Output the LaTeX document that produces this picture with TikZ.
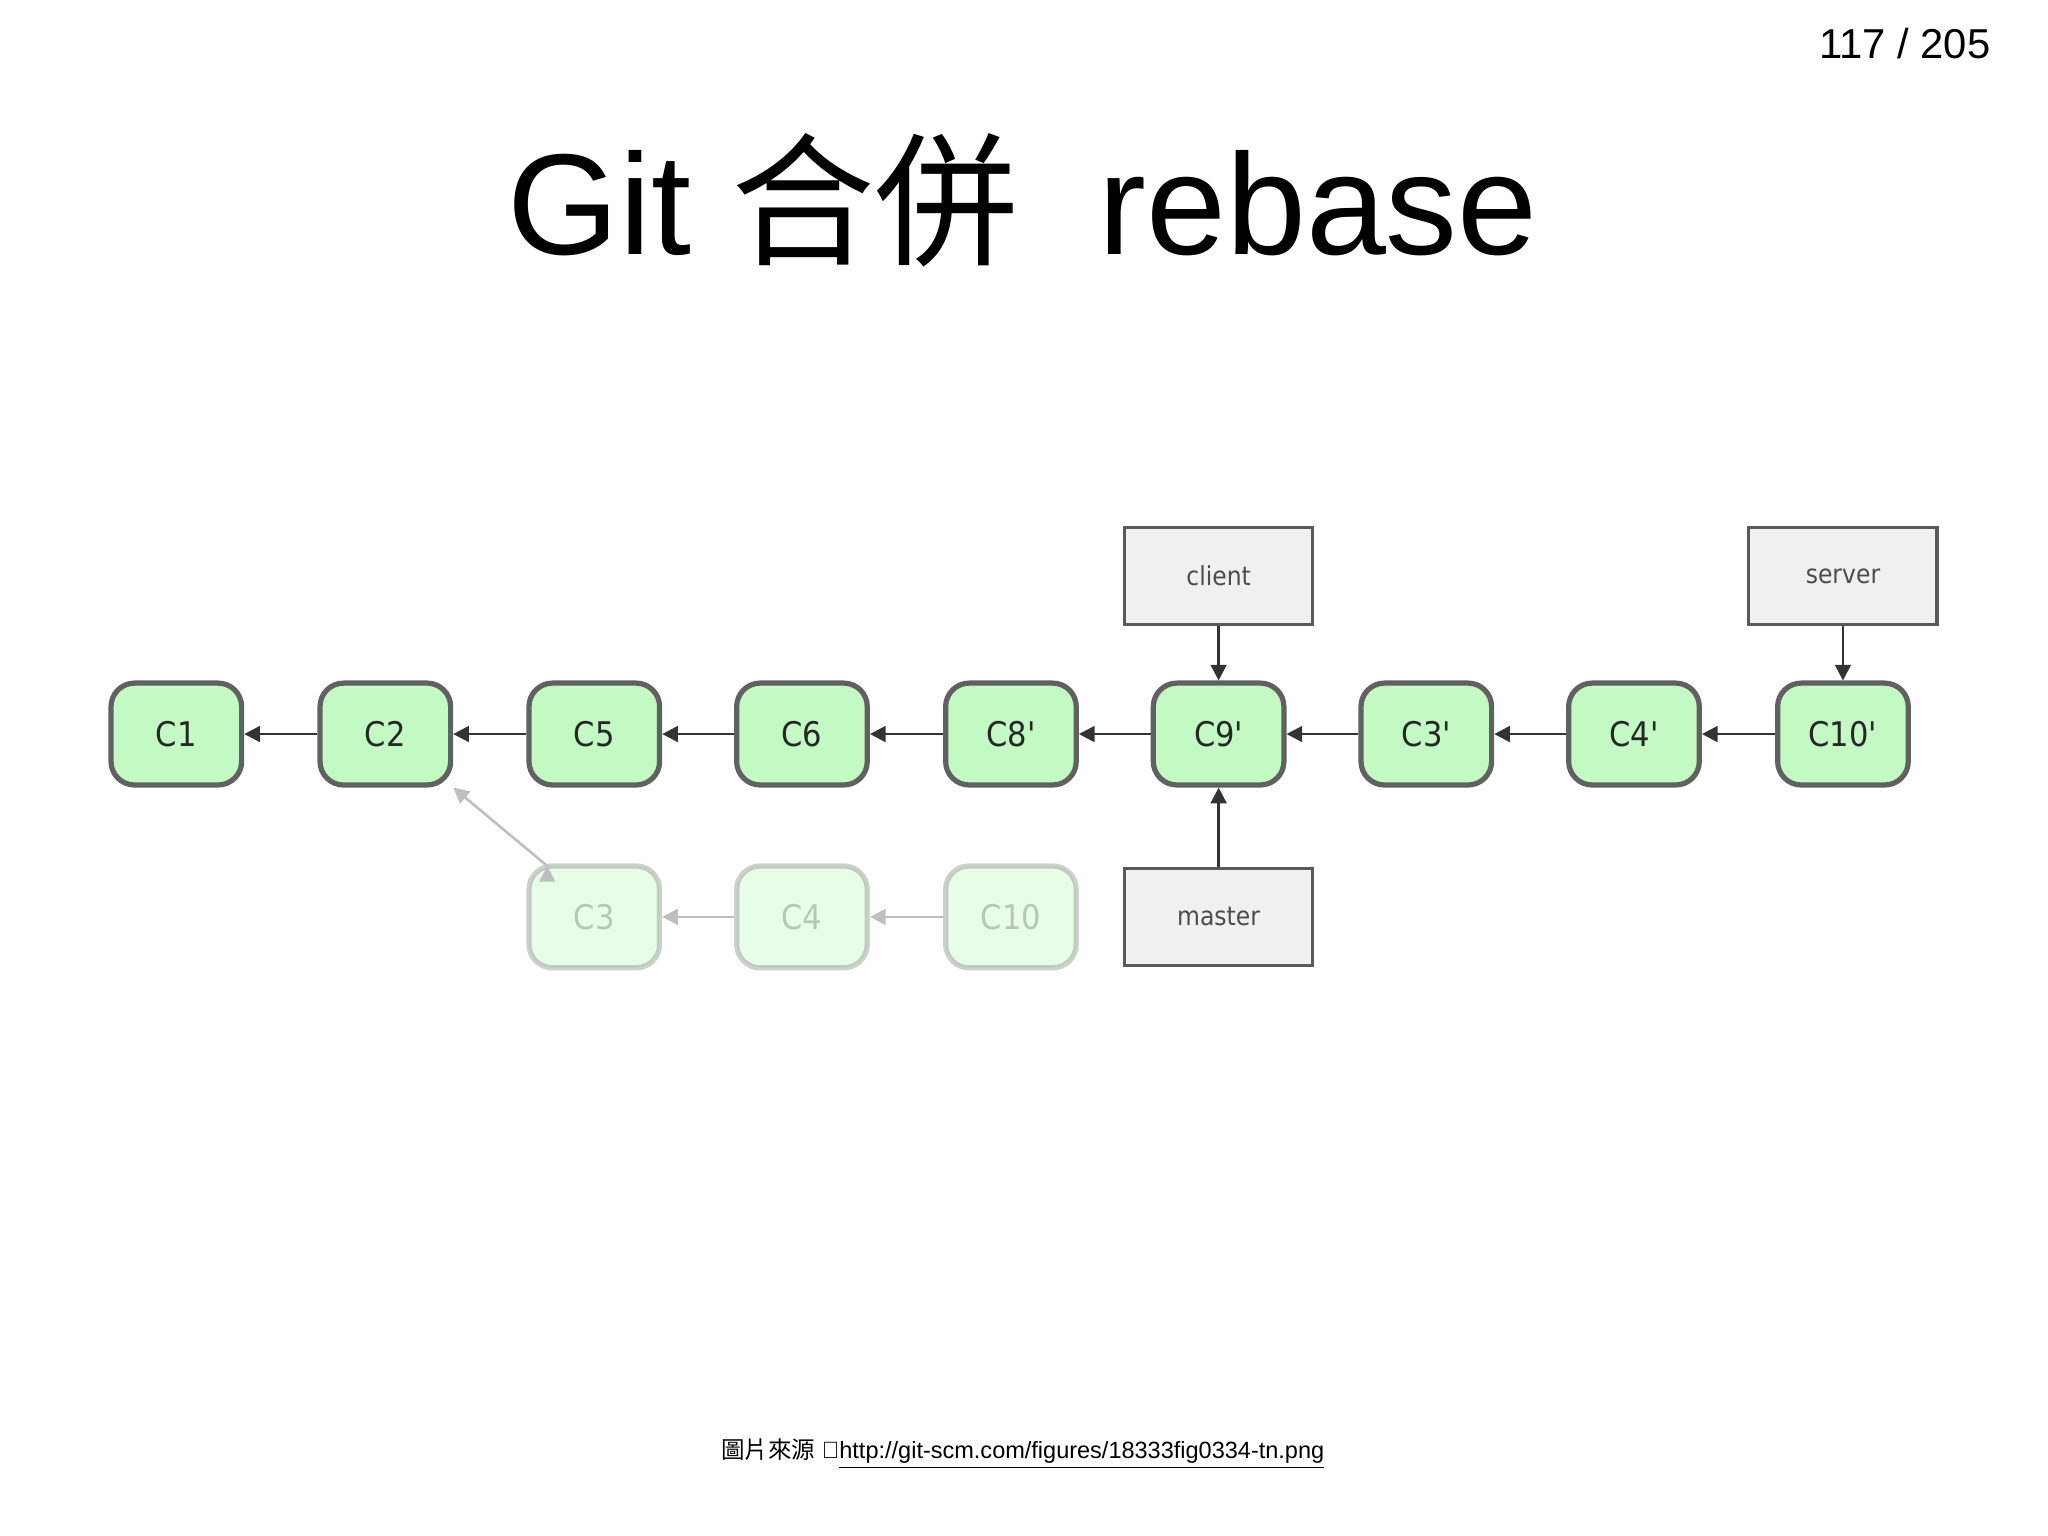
\documentclass[tikz,border=0pt]{standalone}
\usepackage{fontspec}
\setmainfont{Liberation Sans}
\newfontfamily\cjk{Noto Sans CJK TC}
\newfontfamily\boxf{DejaVu Sans Condensed}
\usetikzlibrary{arrows.meta}
\begin{document}
\begin{tikzpicture}[x=0.5pt,y=-0.5pt,
  commit/.style={draw=black!62,line width=2pt,fill=green!22!white!95!gray,rounded corners=9pt,minimum width=50pt,minimum height=39pt,font=\boxf\fontsize{13}{13}\selectfont,text=black!85,inner sep=0pt},
  faded/.style={commit,draw opacity=0.3,fill opacity=0.4,text opacity=0.25},
  ref/.style={draw=black!65,line width=1.2pt,fill=gray!12,minimum width=72pt,minimum height=37pt,font=\boxf\fontsize{10}{10}\selectfont,text=black!70,inner sep=0pt},
  arr/.style={-{Triangle[length=6pt,width=6pt]},line width=1pt,black!80},
  farr/.style={arr,black!25}]
\useasboundingbox (0,0) rectangle (1568,1176);
\node[font=\fontsize{16}{16}\selectfont,anchor=east] (pg) at (1531,33) {117 / 205};
\node[font=\fontsize{55}{55}\selectfont] (title) at (783,153) {Git {\cjk 合併}\ \ rebase};
\foreach \n/\t/\x in {c1/C1/135,c2/C2/295,c5/C5/455,c6/C6/614,c8/C8'/774,c9/C9'/933,c3p/C3'/1092,c4p/C4'/1251,c10p/C10'/1411}
  \node[commit] (\n) at (\x,562) {\t};
\foreach \n/\t/\x in {c3/C3/455,c4/C4/614,c10/C10/774}
  \node[faded] (\n) at (\x,702) {\t};
\foreach \a/\b in {c2/c1,c5/c2,c6/c5,c8/c6,c9/c8,c3p/c9,c4p/c3p,c10p/c4p}
  \draw[arr] (\a) -- (\b);
\draw[farr] (c4) -- (c3);
\draw[farr] (c10) -- (c4);
\draw[farr] (c3.north west) ++(8pt,-1pt) coordinate (s) ;
\draw[farr] (s) -- (c2.south east);
\node[ref] (client) at (933,441) {client};
\node[ref] (server) at (1411,441) {server};
\node[ref] (master) at (933,702) {master};
\draw[arr] (client) -- (c9);
\draw[arr] (server) -- (c10p);
\draw[arr] (master) -- (c9);
\node[font=\fontsize{9}{9}\selectfont] (src) at (783,1113) {{\cjk 圖片來源} ：\underline{http://git-scm.com/figures/18333fig0334-tn.png}};
\end{tikzpicture}
\end{document}
